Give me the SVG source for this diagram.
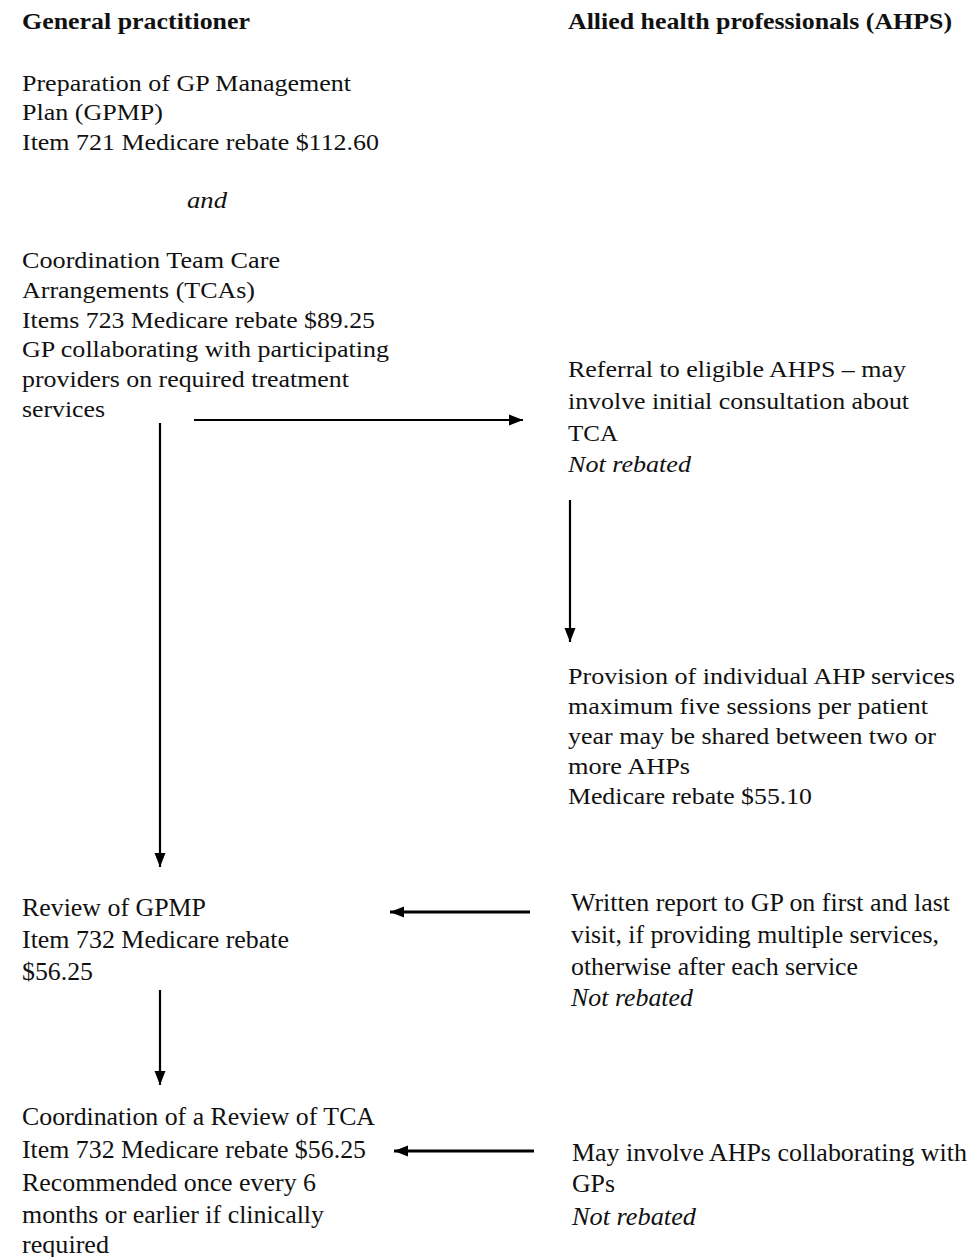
<svg xmlns="http://www.w3.org/2000/svg" width="977" height="1257" viewBox="0 0 977 1257">
<style>
text{font-family:"Liberation Serif","Times New Roman",serif;font-size:24px;fill:#111}
.h{font-weight:bold}
.i{font-style:italic}
.b text{font-size:25px}
.c{stroke:#000;stroke-width:2.2;fill:none;marker-end:url(#ah)}
.t{stroke-width:3}
</style>
<defs>
<marker id="ah" markerUnits="userSpaceOnUse" markerWidth="15" markerHeight="12" refX="14" refY="6" orient="auto">
<path d="M0,0.5 L14,6 L0,11.5 z" fill="#000"/>
</marker>
</defs>
<rect width="977" height="1257" fill="#fff"/>
<g id="hdr-gp"><text class="h" x="22" y="29" textLength="228" lengthAdjust="spacingAndGlyphs">General practitioner</text></g>
<g id="hdr-ahp"><text class="h" x="568" y="29" textLength="384" lengthAdjust="spacingAndGlyphs">Allied health professionals (AHPS)</text></g>
<g id="gpmp">
<text x="22" y="91" textLength="329" lengthAdjust="spacingAndGlyphs">Preparation of GP Management</text>
<text x="22" y="120" textLength="141" lengthAdjust="spacingAndGlyphs">Plan (GPMP)</text>
<text x="22" y="150" textLength="357" lengthAdjust="spacingAndGlyphs">Item 721 Medicare rebate $112.60</text>
</g>
<g id="and"><text class="i" x="187" y="208" textLength="40" lengthAdjust="spacingAndGlyphs">and</text></g>
<g id="tca">
<text x="22" y="268" textLength="258" lengthAdjust="spacingAndGlyphs">Coordination Team Care</text>
<text x="22" y="298" textLength="233" lengthAdjust="spacingAndGlyphs">Arrangements (TCAs)</text>
<text x="22" y="328" textLength="353" lengthAdjust="spacingAndGlyphs">Items 723 Medicare rebate $89.25</text>
<text x="22" y="357" textLength="367" lengthAdjust="spacingAndGlyphs">GP collaborating with participating</text>
<text x="22" y="387" textLength="327" lengthAdjust="spacingAndGlyphs">providers on required treatment</text>
<text x="22" y="417" textLength="83" lengthAdjust="spacingAndGlyphs">services</text>
</g>
<g id="referral">
<text x="568" y="377" textLength="338" lengthAdjust="spacingAndGlyphs">Referral to eligible AHPS – may</text>
<text x="568" y="409" textLength="341" lengthAdjust="spacingAndGlyphs">involve initial consultation about</text>
<text x="568" y="441" textLength="50" lengthAdjust="spacingAndGlyphs">TCA</text>
<text class="i" x="568" y="472" textLength="123" lengthAdjust="spacingAndGlyphs">Not rebated</text>
</g>
<g id="provision">
<text x="568" y="684" textLength="387" lengthAdjust="spacingAndGlyphs">Provision of individual AHP services</text>
<text x="568" y="714" textLength="360" lengthAdjust="spacingAndGlyphs">maximum five sessions per patient</text>
<text x="568" y="744" textLength="368" lengthAdjust="spacingAndGlyphs">year may be shared between two or</text>
<text x="568" y="774" textLength="122" lengthAdjust="spacingAndGlyphs">more AHPs</text>
<text x="568" y="804" textLength="244" lengthAdjust="spacingAndGlyphs">Medicare rebate $55.10</text>
</g>
<g id="review" class="b">
<text x="22" y="916" textLength="184" lengthAdjust="spacingAndGlyphs">Review of GPMP</text>
<text x="22" y="948" textLength="267" lengthAdjust="spacingAndGlyphs">Item 732 Medicare rebate</text>
<text x="22" y="980" textLength="71" lengthAdjust="spacingAndGlyphs">$56.25</text>
</g>
<g id="report" class="b">
<text x="571" y="911" textLength="379" lengthAdjust="spacingAndGlyphs">Written report to GP on first and last</text>
<text x="571" y="943" textLength="368" lengthAdjust="spacingAndGlyphs">visit, if providing multiple services,</text>
<text x="571" y="975" textLength="287" lengthAdjust="spacingAndGlyphs">otherwise after each service</text>
<text class="i" x="571" y="1006" textLength="122" lengthAdjust="spacingAndGlyphs">Not rebated</text>
</g>
<g id="review-tca" class="b">
<text x="22" y="1125" textLength="353" lengthAdjust="spacingAndGlyphs">Coordination of a Review of TCA</text>
<text x="22" y="1158" textLength="344" lengthAdjust="spacingAndGlyphs">Item 732 Medicare rebate $56.25</text>
<text x="22" y="1191" textLength="294" lengthAdjust="spacingAndGlyphs">Recommended once every 6</text>
<text x="22" y="1223" textLength="302" lengthAdjust="spacingAndGlyphs">months or earlier if clinically</text>
<text x="22" y="1253" textLength="87" lengthAdjust="spacingAndGlyphs">required</text>
</g>
<g id="collab" class="b">
<text x="572" y="1161" textLength="395" lengthAdjust="spacingAndGlyphs">May involve AHPs collaborating with</text>
<text x="572" y="1192" textLength="43" lengthAdjust="spacingAndGlyphs">GPs</text>
<text class="i" x="572" y="1225" textLength="124" lengthAdjust="spacingAndGlyphs">Not rebated</text>
</g>
<g id="connectors">
<line class="c" x1="194" y1="420" x2="523" y2="420"/>
<line class="c" x1="160" y1="423" x2="160" y2="867"/>
<line class="c" x1="570" y1="500" x2="570" y2="642"/>
<line class="c t" x1="530" y1="912" x2="390" y2="912"/>
<line class="c" x1="160" y1="990" x2="160" y2="1085"/>
<line class="c t" x1="534" y1="1151" x2="394" y2="1151"/>
</g>
</svg>
